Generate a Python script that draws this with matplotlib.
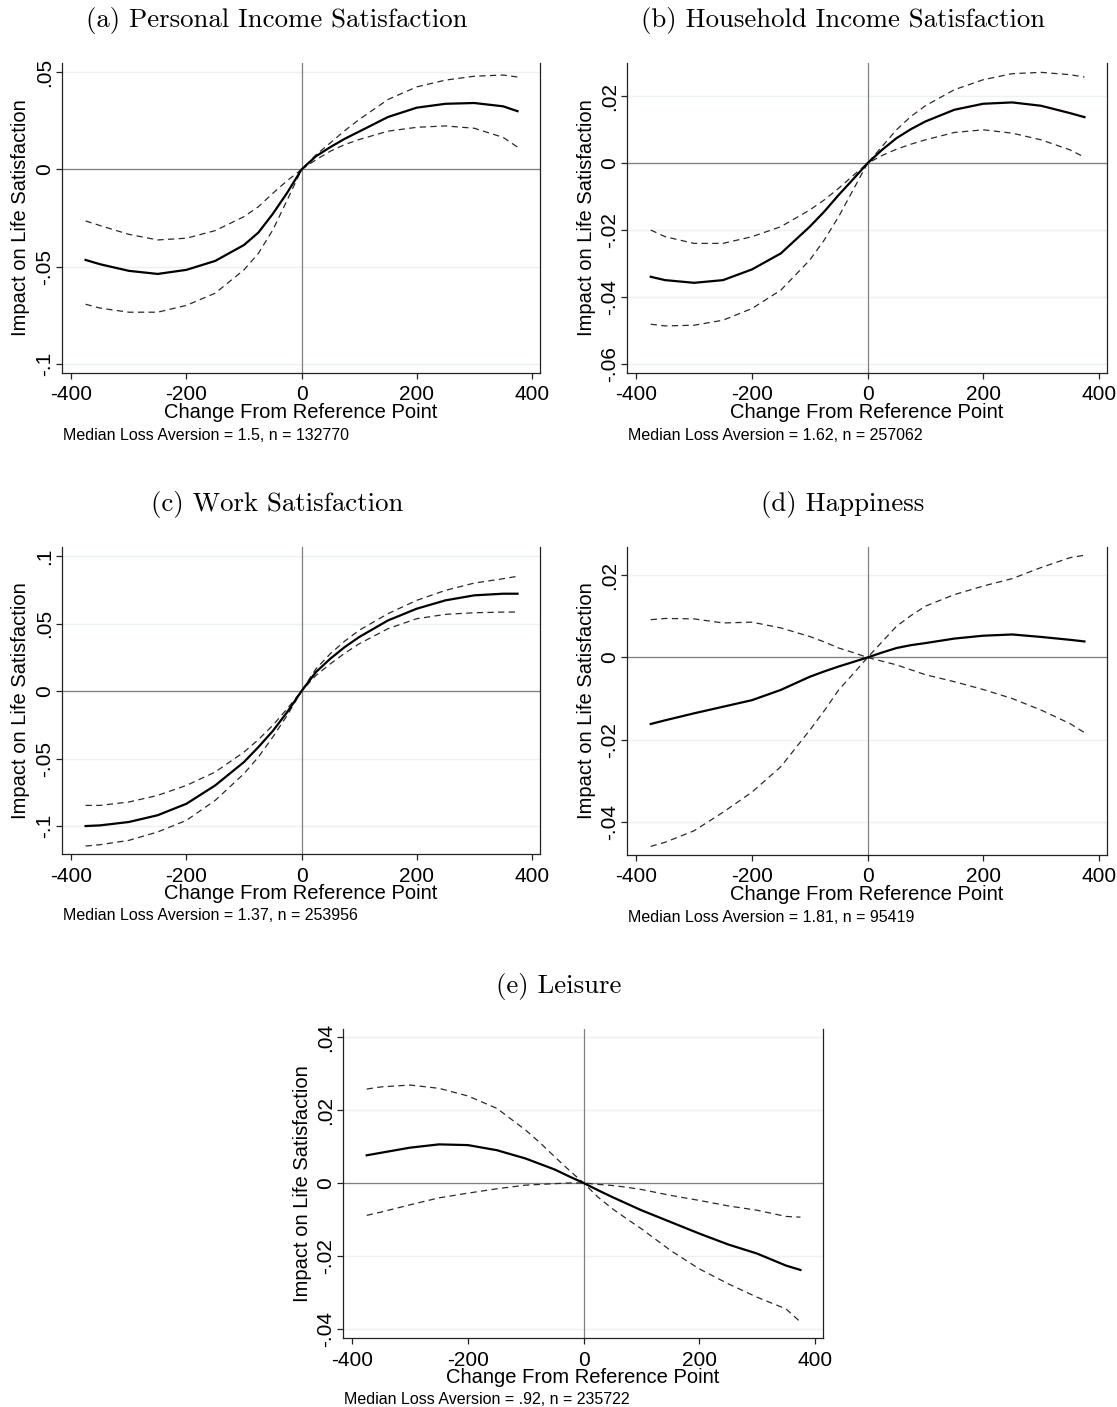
import numpy as np
import matplotlib
matplotlib.use("Agg")
import matplotlib.pyplot as plt
from matplotlib.ticker import FuncFormatter

# change from reference point (common grid for all panels)
x = [-375, -350, -300, -250, -200, -150, -100, -75, -50, -25, 0,
     25, 50, 75, 100, 150, 200, 250, 300, 350, 375]

# (a) personal income satisfaction
pinc_est = [-0.0466, -0.0488, -0.0522, -0.0538, -0.0517, -0.0471, -0.0389, -0.0325, -0.0229, -0.012, 0,
            0.0068, 0.0115, 0.0158, 0.0195, 0.027, 0.0318, 0.0338, 0.0342, 0.0325, 0.030]
pinc_ci1 = [-0.0265, -0.0289, -0.0334, -0.0363, -0.0354, -0.0315, -0.0243, -0.0192, -0.0123, -0.0058, 0,
            0.0075, 0.0137, 0.020, 0.0257, 0.036, 0.0425, 0.046, 0.048, 0.0486, 0.0476]
pinc_ci2 = [-0.0694, -0.0714, -0.0735, -0.0735, -0.070, -0.0637, -0.0517, -0.0432, -0.0312, -0.0158, 0,
            0.005, 0.0094, 0.0128, 0.0154, 0.0197, 0.0217, 0.0224, 0.0212, 0.0165, 0.0115]

# (b) household income satisfaction
hinc_est = [-0.034, -0.035, -0.0358, -0.035, -0.0318, -0.027, -0.019, -0.0145, -0.0095, -0.0048, 0,
            0.004, 0.0075, 0.0102, 0.0125, 0.016, 0.0178, 0.0182, 0.0172, 0.015, 0.0138]
hinc_ci1 = [-0.020, -0.022, -0.024, -0.024, -0.022, -0.019, -0.014, -0.011, -0.0075, -0.0037, 0,
            0.005, 0.010, 0.014, 0.0172, 0.022, 0.025, 0.0268, 0.0272, 0.0265, 0.0258]
hinc_ci2 = [-0.0482, -0.0487, -0.0485, -0.047, -0.0435, -0.038, -0.029, -0.023, -0.016, -0.008, 0,
            0.0023, 0.0042, 0.0057, 0.007, 0.0092, 0.010, 0.009, 0.007, 0.004, 0.0018]

# (c) work satisfaction
work_est = [-0.100, -0.0995, -0.097, -0.092, -0.0835, -0.0699, -0.0526, -0.0415, -0.0296, -0.0156, 0,
            0.0141, 0.024, 0.0326, 0.040, 0.0523, 0.061, 0.0672, 0.0709, 0.0721, 0.0721]
work_ci1 = [-0.0847, -0.0847, -0.0822, -0.0773, -0.0699, -0.060, -0.0452, -0.036, -0.0254, -0.0131, 0,
            0.0165, 0.0277, 0.037, 0.045, 0.0573, 0.0672, 0.0746, 0.080, 0.0832, 0.085]
work_ci2 = [-0.1148, -0.1138, -0.1106, -0.1044, -0.0958, -0.081, -0.0612, -0.0489, -0.0341, -0.018, 0,
            0.0116, 0.0202, 0.028, 0.035, 0.0462, 0.0536, 0.0568, 0.058, 0.0585, 0.0585]

# (d) happiness
happ_est = [-0.0162, -0.0153, -0.0136, -0.012, -0.0104, -0.0079, -0.0047, -0.0034, -0.0022, -0.0011, 0,
            0.0012, 0.0023, 0.003, 0.0035, 0.0046, 0.0053, 0.0056, 0.005, 0.0043, 0.0039]
happ_ci1 = [-0.046, -0.045, -0.0422, -0.0377, -0.0328, -0.0266, -0.0177, -0.013, -0.0079, -0.004, 0,
            0.0038, 0.0076, 0.0102, 0.0125, 0.0153, 0.0174, 0.0192, 0.0219, 0.0243, 0.0249]
happ_ci2 = [0.0092, 0.0095, 0.0094, 0.0084, 0.0086, 0.0072, 0.0051, 0.0038, 0.0023, 0.0012, 0,
            -0.0009, -0.0018, -0.003, -0.0042, -0.0059, -0.0078, -0.010, -0.0128, -0.0161, -0.0183]

# (e) leisure
leis_est = [0.0076, 0.0083, 0.0097, 0.0106, 0.0104, 0.009, 0.0067, 0.0052, 0.0037, 0.0018, 0,
            -0.002, -0.0039, -0.0057, -0.0075, -0.0107, -0.0139, -0.0169, -0.0194, -0.0227, -0.0239]
leis_ci1 = [0.0258, 0.0264, 0.0269, 0.026, 0.0239, 0.0205, 0.0145, 0.011, 0.0072, 0.0035, 0,
            -0.0039, -0.0071, -0.0099, -0.0126, -0.0185, -0.0236, -0.0277, -0.0314, -0.0346, -0.0382]
leis_ci2 = [-0.0089, -0.008, -0.006, -0.0041, -0.0028, -0.0016, -0.0006, -0.0004, -0.0002, 0, 0,
            -0.0004, -0.0007, -0.0012, -0.0018, -0.0034, -0.0048, -0.0063, -0.0075, -0.0092, -0.0094]

titles = ['(a) Personal Income Satisfaction', '(b) Household Income Satisfaction',
          '(c) Work Satisfaction', '(d) Happiness', '(e) Leisure']
notes = ['Median Loss Aversion = 1.5, n = 132770', 'Median Loss Aversion = 1.62, n = 257062',
         'Median Loss Aversion = 1.37, n = 253956', 'Median Loss Aversion = 1.81, n = 95419',
         'Median Loss Aversion = .92, n = 235722']
xticks = [-400, -200, 0, 200, 400]
yticks_list = [[-0.1, -0.05, 0, 0.05], [-0.06, -0.04, -0.02, 0, 0.02],
               [-0.1, -0.05, 0, 0.05, 0.1], [-0.04, -0.02, 0, 0.02],
               [-0.04, -0.02, 0, 0.02, 0.04]]
ylims = [(-0.1048, 0.0548), (-0.0628, 0.030), (-0.1207, 0.1067),
         (-0.0481, 0.0269), (-0.0426, 0.0423)]
series = [(pinc_est, pinc_ci1, pinc_ci2), (hinc_est, hinc_ci1, hinc_ci2),
          (work_est, work_ci1, work_ci2), (happ_est, happ_ci1, happ_ci2),
          (leis_est, leis_ci1, leis_ci2)]

# axes boxes in pixels: left, top, right, bottom
W, H = 1117, 1407
boxes = [(62, 63, 540, 373), (627, 63, 1107, 373),
         (62, 547, 540, 854), (627, 547, 1107, 855),
         (343, 1029, 823, 1338)]

plt.rcParams['font.family'] = 'Liberation Sans'


def stata_fmt(v, pos):
    v = round(v, 6)
    if v == 0:
        return '0'
    s = f"{v:g}"
    return s.replace('0.', '.')


fig = plt.figure(figsize=(W / 100, H / 100), dpi=100)

for i in range(5):
    l, t, r, b = boxes[i]
    ax = fig.add_axes([l / W, 1 - b / H, (r - l) / W, (b - t) / H])
    est, ci1, ci2 = series[i]

    for yv in yticks_list[i]:
        ax.axhline(yv, color='#eaf2f3', lw=1.0, zorder=0)
    ax.axhline(0, color='#808080', lw=0.9, zorder=1)
    ax.axvline(0, color='#808080', lw=0.9, zorder=1)

    ax.plot(x, ci1, color='#2a2a2a', lw=0.9, ls=(0, (5, 3.5)), zorder=2)
    ax.plot(x, ci2, color='#2a2a2a', lw=0.9, ls=(0, (5, 3.5)), zorder=2)
    ax.plot(x, est, color='black', lw=1.6, zorder=3, solid_joinstyle='round')

    ax.set_xlim(-416, 414)
    ax.set_ylim(*ylims[i])
    ax.set_xticks(xticks)
    ax.set_yticks(yticks_list[i])
    ax.xaxis.set_major_formatter(FuncFormatter(stata_fmt))
    ax.yaxis.set_major_formatter(FuncFormatter(stata_fmt))
    ax.tick_params(axis='both', direction='out', length=4, width=0.9,
                   labelsize=15, color='#222222')
    ax.tick_params(axis='y', pad=2)
    ax.tick_params(axis='x', pad=5)
    for lab in ax.get_yticklabels():
        lab.set_rotation(90)
        lab.set_va('center')
        lab.set_ha('right')

    ax.spines['top'].set_visible(False)
    for s in ['left', 'bottom', 'right']:
        ax.spines[s].set_linewidth(0.9)
        ax.spines[s].set_color('#222222')

    ax.set_xlabel('Change From Reference Point', fontsize=14.5, labelpad=-1)
    ax.set_ylabel('Impact on Life Satisfaction', fontsize=14.5, labelpad=3)

    cx = (l + r) / 2 - 24
    fig.text(cx / W, 1 - (t - 42) / H, titles[i], family='cmr10', fontsize=19.3,
             ha='center', va='center')
    fig.text((l + 1) / W, 1 - (b + 62) / H, notes[i], fontsize=11.5,
             ha='left', va='center')

fig.savefig('out.png', dpi=100, facecolor='white')
